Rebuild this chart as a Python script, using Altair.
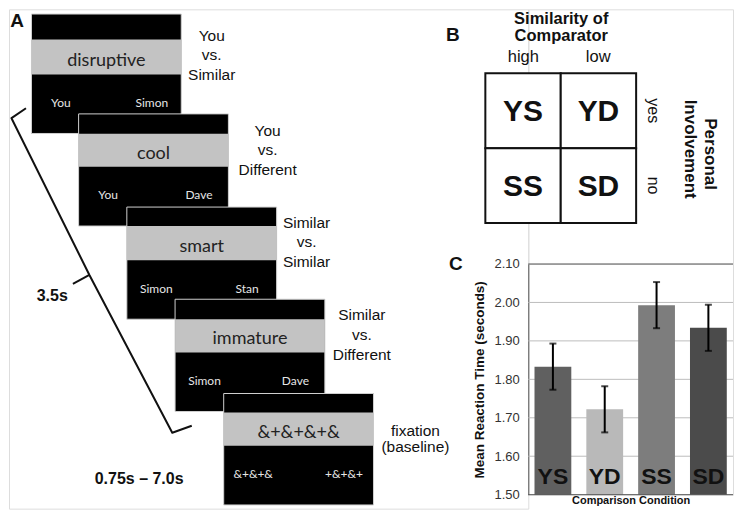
import altair as alt
import pandas as pd

# ---------------- Panel C: data ----------------
conditions = ["YS", "YD", "SS", "SD"]
mean_rt = [1.833, 1.722, 1.993, 1.934]
rt_error = [0.060, 0.060, 0.060, 0.060]
bar_colors = ["#606060", "#b9b9b9", "#7d7d7d", "#4b4b4b"]
y_ticks = [1.5, 1.6, 1.7, 1.8, 1.9, 2.0, 2.1]

# ---------------- Panel A: content ----------------
trial_words = ["disruptive", "cool", "smart", "immature", "&+&+&+&"]
left_names = ["You", "You", "Simon", "Simon", "&+&+&"]
right_names = ["Simon", "Dave", "Stan", "Dave", "+&+&+"]
trial_labels = [["You", "vs.", "Similar"], ["You", "vs.", "Different"],
                ["Similar", "vs.", "Similar"], ["Similar", "vs.", "Different"],
                ["fixation", "(baseline)"]]
durations = ["3.5s", "0.75s \u2013 7.0s"]

# ---------------- Panel B: content ----------------
similarity_header = ["Similarity of", "Comparator"]
similarity_levels = ["high", "low"]
involvement_header = ["Personal", "Involvement"]
involvement_levels = ["yes", "no"]
panel_letters = ["A", "B", "C"]

# ---------------- layout (diagram coordinates = px of the figure) ----------------
scr_left = [30.5, 77.7, 126.0, 174.3, 223.0]
scr_w = 150
scr_top = [12.7, 112.7, 206.0, 298.3, 392.7]
band_top = [38.3, 132.7, 225.0, 318.3, 411.7]
band_bot = [73.3, 165.7, 259.3, 351.7, 445.0]
scr_bot = [132.3, 225.0, 318.3, 410.7, 504.3]
lab_pos = [(211, 40, 19.2), (267, 135, 19.2), (306, 226.7, 19.7), (361.3, 319.3, 20), (415, 435, 16)]
bracket_pts = [(25, 107), (10.5, 117), (88.5, 274), (171.5, 432), (191, 425)]
nub_pts = [(88.5, 274), (72, 283)]
dur_pos = [(51.3, 300), (138.3, 483.3)]

X0, X1 = 8, 733     # visible figure span (page margin is 8 px)
Y0, Y1 = 8, 508
SPLIT_X = 528       # left edge of panel C plot
SPLIT_Y = 263       # top edge of panel C plot (value 2.10)
C_BOTTOM = 494      # value 1.50

SANS = "Liberation Sans"
SCREEN_FONT = "Lato"

# ================= Panel A view =================
rect_rows = []
for i in range(5):
    rect_rows.append(dict(x0=scr_left[i], x1=scr_left[i] + scr_w, y0=scr_top[i], y1=scr_bot[i],
                          fill="#000000", stroke="#d0d0d0"))
    rect_rows.append(dict(x0=scr_left[i], x1=scr_left[i] + scr_w, y0=band_top[i], y1=band_bot[i],
                          fill="#c3c3c3", stroke="rgba(0,0,0,0)"))
rects = pd.DataFrame(rect_rows)

words = pd.DataFrame(dict(
    x=[l + scr_w / 2 for l in scr_left],
    y=[(a + b) / 2 + 8.5 for a, b in zip(band_top, band_bot)],
    t=trial_words))
names_rows = []
for i in range(5):
    c = scr_left[i] + scr_w / 2
    names_rows.append(dict(x=c - 45.5, y=band_bot[i] + 32.5, t=left_names[i]))
    names_rows.append(dict(x=c + 45.5, y=band_bot[i] + 32.5, t=right_names[i]))
names = pd.DataFrame(names_rows)

lab_rows = []
for (cx, by, sp), lines in zip(lab_pos, trial_labels):
    for k, line in enumerate(lines):
        lab_rows.append(dict(x=cx, y=by + k * sp, t=line))
labs = pd.DataFrame(lab_rows)

br_rows = []
for k, (x, y) in enumerate(bracket_pts):
    br_rows.append(dict(x=x, y=y, seg="main", i=k))
for k, (x, y) in enumerate(nub_pts):
    br_rows.append(dict(x=x, y=y, seg="nub", i=k))
bracket = pd.DataFrame(br_rows)

durs = pd.DataFrame(dict(x=[p[0] for p in dur_pos], y=[p[1] for p in dur_pos], t=durations))
letterA = pd.DataFrame(dict(x=[16], y=[26], t=[panel_letters[0]]))

axA = alt.Scale(domain=[X0, SPLIT_X], nice=False, zero=False)
ayA = alt.Scale(domain=[Y0, Y1], nice=False, zero=False, reverse=True)


def XA(f="x"):
    return alt.X(f"{f}:Q", scale=axA, axis=None)


def YA(f="y"):
    return alt.Y(f"{f}:Q", scale=ayA, axis=None)


a_rect = alt.Chart(rects).mark_rect(strokeWidth=1).encode(
    x=XA("x0"), x2="x1", y=YA("y0"), y2="y1",
    fill=alt.Fill("fill:N", scale=None), stroke=alt.Stroke("stroke:N", scale=None))
a_words = alt.Chart(words).mark_text(font=SCREEN_FONT, fontSize=18, color="#222222",
                                     baseline="alphabetic").encode(x=XA(), y=YA(), text="t:N")
a_names = alt.Chart(names).mark_text(font=SCREEN_FONT, fontSize=12, color="#e6e6e6",
                                     baseline="alphabetic").encode(x=XA(), y=YA(), text="t:N")
a_labs = alt.Chart(labs).mark_text(font=SANS, fontSize=15.5, color="#111111",
                                   baseline="alphabetic").encode(x=XA(), y=YA(), text="t:N")
a_br = alt.Chart(bracket).mark_line(color="#111111", strokeWidth=2, strokeJoin="round").encode(
    x=XA(), y=YA(), detail="seg:N", order="i:Q")
a_durs = alt.Chart(durs).mark_text(font=SANS, fontSize=16, fontWeight="bold", color="#111111",
                                   baseline="alphabetic").encode(x=XA(), y=YA(), text="t:N")
a_let = alt.Chart(letterA).mark_text(font=SANS, fontSize=19, fontWeight="bold", color="#111111",
                                     baseline="alphabetic").encode(x=XA(), y=YA(), text="t:N")

panelA = alt.layer(a_rect, a_words, a_names, a_labs, a_br, a_durs, a_let).properties(
    width=SPLIT_X - X0, height=Y1 - Y0)

# ================= Panel B view =================
cell_x = [485, 560.5, 636]
cell_y = [72, 147, 222]
cells = pd.DataFrame(dict(
    x0=[cell_x[0], cell_x[1], cell_x[0], cell_x[1]],
    x1=[cell_x[1], cell_x[2], cell_x[1], cell_x[2]],
    y0=[cell_y[0], cell_y[0], cell_y[1], cell_y[1]],
    y1=[cell_y[1], cell_y[1], cell_y[2], cell_y[2]],
    t=conditions))
cells["cx"] = (cells.x0 + cells.x1) / 2
cells["cy"] = (cells.y0 + cells.y1) / 2 + 10.5

hdr = pd.DataFrame(dict(x=[561, 561], y=[23, 40], t=similarity_header))
lvl = pd.DataFrame(dict(x=[523, 598], y=[60.5, 60.5], t=similarity_levels))
rows_lv = pd.DataFrame(dict(x=[653, 653], y=[109.5, 184.5], t=involvement_levels))
inv = pd.DataFrame(dict(x=[710, 690], y=[153, 148], t=involvement_header))
letBC = pd.DataFrame(dict(x=[452.5, 455.5], y=[40, 269], t=panel_letters[1:]))

axB = alt.Scale(domain=[SPLIT_X, X1], nice=False, zero=False)
ayB = alt.Scale(domain=[Y0, SPLIT_Y], nice=False, zero=False, reverse=True)


def XB(f="x"):
    return alt.X(f"{f}:Q", scale=axB, axis=None)


def YB(f="y"):
    return alt.Y(f"{f}:Q", scale=ayB, axis=None)


b_cells = alt.Chart(cells).mark_rect(fill="white", stroke="#111111", strokeWidth=2).encode(
    x=XB("x0"), x2="x1", y=YB("y0"), y2="y1")
b_ctext = alt.Chart(cells).mark_text(font=SANS, fontSize=30, fontWeight="bold", color="#111111",
                                     baseline="alphabetic").encode(x=XB("cx"), y=YB("cy"), text="t:N")
b_hdr = alt.Chart(hdr).mark_text(font=SANS, fontSize=16.5, fontWeight="bold", color="#111111",
                                 baseline="alphabetic").encode(x=XB(), y=YB(), text="t:N")
b_lvl = alt.Chart(lvl).mark_text(font=SANS, fontSize=16.5, color="#111111",
                                 baseline="alphabetic").encode(x=XB(), y=YB(), text="t:N")
b_rows = alt.Chart(rows_lv).mark_text(font=SANS, fontSize=16, color="#111111", angle=90,
                                      baseline="middle").encode(x=XB(), y=YB(), text="t:N")
b_inv = alt.Chart(inv).mark_text(font=SANS, fontSize=17, fontWeight="bold", color="#111111", angle=90,
                                 baseline="middle").encode(x=XB(), y=YB(), text="t:N")
b_let = alt.Chart(letBC).mark_text(font=SANS, fontSize=19, fontWeight="bold", color="#111111",
                                   baseline="alphabetic").encode(x=XB(), y=YB(), text="t:N")

panelB = alt.layer(b_cells, b_ctext, b_hdr, b_lvl, b_rows, b_inv, b_let).properties(
    width=X1 - SPLIT_X, height=SPLIT_Y - Y0)

# ================= Panel C view =================
dfc = pd.DataFrame(dict(cond=conditions, rt=mean_rt, err=rt_error, color=bar_colors))
dfc["lo"] = dfc.rt - dfc.err
dfc["hi"] = dfc.rt + dfc.err
dfc["base"] = y_ticks[0]
grid_df = pd.DataFrame(dict(v=y_ticks[1:-1]))
frame_df = pd.DataFrame(dict(v=[y_ticks[0], y_ticks[-1]]))

xscale = alt.Scale(domain=conditions, paddingInner=0.29, paddingOuter=0.12)
xC = alt.X("cond:N", sort=conditions, scale=xscale,
           axis=alt.Axis(labels=False, ticks=False, domain=False,
                         title="Comparison Condition", titleFont=SANS, titleFontSize=11,
                         titleFontWeight="bold", titleColor="#111111", titlePadding=0))
yscale = alt.Scale(domain=[y_ticks[0], y_ticks[-1]], nice=False, zero=False)
yC = alt.Y("rt:Q", scale=yscale,
           axis=alt.Axis(values=y_ticks, format=".2f", grid=False, tickCount=7,
                         labelOverlap=False, domainColor="#555555", ticks=False, labelFont=SANS,
                         labelFontSize=13, labelColor="#333333", labelPadding=9,
                         title="Mean Reaction Time (seconds)", titleFont=SANS, titleFontSize=13.5,
                         titleFontWeight="bold", titleColor="#111111", titlePadding=8))

c_grid = alt.Chart(grid_df).mark_rule(color="#bdbdbd", strokeWidth=1).encode(
    y=alt.Y("v:Q", scale=yscale))
c_frame = alt.Chart(frame_df).mark_rule(color="#555555", strokeWidth=1).encode(
    y=alt.Y("v:Q", scale=yscale))
c_bars = alt.Chart(dfc).mark_bar().encode(x=xC, y=yC, y2="base:Q",
                                          color=alt.Color("color:N", scale=None))
c_err = alt.Chart(dfc).mark_rule(color="#000000", strokeWidth=2).encode(
    x=alt.X("cond:N", sort=conditions), y=alt.Y("lo:Q"), y2="hi")
c_cap_lo = alt.Chart(dfc).mark_tick(color="#000000", thickness=2, size=7).encode(
    x=alt.X("cond:N", sort=conditions), y=alt.Y("lo:Q"))
c_cap_hi = alt.Chart(dfc).mark_tick(color="#000000", thickness=2, size=7).encode(
    x=alt.X("cond:N", sort=conditions), y=alt.Y("hi:Q"))
c_lab = alt.Chart(dfc).mark_text(font=SANS, fontSize=23, fontWeight="bold", color="#111111",
                                 baseline="alphabetic", dy=-10.5).encode(
    x=alt.X("cond:N", sort=conditions), y=alt.Y("base:Q"), text="cond:N")

panelC = alt.layer(c_grid, c_bars, c_frame, c_err, c_cap_lo, c_cap_hi, c_lab).properties(
    width=X1 - SPLIT_X, height=C_BOTTOM - SPLIT_Y)

right = alt.vconcat(panelB, panelC, spacing=0, bounds="flush")
chart = alt.hconcat(panelA, right, spacing=0, bounds="flush").properties(
    padding={"left": 0, "top": 0, "right": 0, "bottom": 0},
    autosize=alt.AutoSizeParams(type="pad"),
).configure_view(stroke=None).configure(font=SANS, padding=0)

chart.save("out.html", embed_options={"renderer": "svg", "actions": False})
